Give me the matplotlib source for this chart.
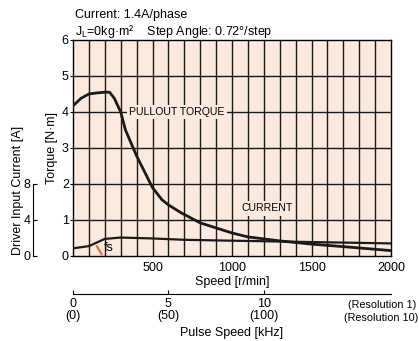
import matplotlib
matplotlib.use("Agg")
import matplotlib.pyplot as plt
from matplotlib import font_manager

# font: narrow sans if available
names = {f.name for f in font_manager.fontManager.ttflist}
fam = 'Liberation Sans Narrow' if 'Liberation Sans Narrow' in names else 'Liberation Sans'
plt.rcParams['font.family'] = [fam, 'DejaVu Sans']
fs = 9

# pullout torque [N·m] vs speed [r/min]
torque_rpm = [0, 50, 100, 150, 200, 230, 260, 300, 330, 400, 500, 560, 600, 680,
              800, 1000, 1100, 1300, 1500, 1700, 2000]
torque_nm = [4.17, 4.38, 4.5, 4.53, 4.55, 4.55, 4.38, 4.0, 3.5, 2.78, 1.9, 1.56,
             1.42, 1.2, 0.92, 0.64, 0.53, 0.42, 0.33, 0.26, 0.15]

# driver input current [A] vs speed [r/min]
current_rpm = [0, 100, 200, 300, 500, 700, 1000, 1500, 2000]
current_a = [0.85, 1.1, 1.9, 2.05, 1.95, 1.8, 1.7, 1.55, 1.4]

speed_ticks = [500, 1000, 1500, 2000]
torque_ticks = [0, 1, 2, 3, 4, 5, 6]
current_ticks = [0, 4, 8]
pulse_ticks = [0, 5, 10]
pulse_labels = ['0\n(0)', '5\n(50)', '10\n(100)']

W, H = 419, 341
fig = plt.figure(figsize=(W / 100, H / 100), dpi=100)

def box(l, t, r, b):
    return [l / W, (H - b) / H, (r - l) / W, (b - t) / H]

bg = '#fdeadf'
ax = fig.add_axes(box(73, 40, 391, 256))
ax.set_facecolor(bg)
ax.set_xlim(0, 2000)
ax.set_ylim(0, 6)
for x in range(100, 2000, 100):
    ax.axvline(x, color='#1a1a1a', lw=1.0, zorder=1)
for y in range(1, 6):
    ax.axhline(y, color='#1a1a1a', lw=1.0, zorder=1)
for s in ax.spines.values():
    s.set_linewidth(1.0)
ax.set_xticks(speed_ticks)
ax.set_yticks(torque_ticks)
ax.tick_params(axis='x', length=0, pad=4, labelsize=fs)
ax.tick_params(axis='y', length=2, pad=1, labelsize=fs)
ax.set_xlabel('Speed [r/min]', labelpad=2, fontsize=fs)
ax.set_ylabel('Torque [N·m]', labelpad=3, fontsize=fs)

ax.plot(torque_rpm, torque_nm, color='#1a1a1a', lw=2.0, zorder=3)
ax.plot(current_rpm, [c / 4 for c in current_a], color='#1a1a1a', lw=1.6, zorder=3)

ax.text(655, 4.0, 'PULLOUT TORQUE', ha='center', va='center', fontsize=7.6, zorder=4,
        bbox=dict(facecolor=bg, edgecolor='none', pad=1.5))
ax.text(1220, 1.32, 'CURRENT', ha='center', va='center', fontsize=7.6, zorder=4,
        bbox=dict(facecolor=bg, edgecolor='none', pad=1.5))
ax.plot([150, 180], [0.27, 0.05], color='#e8692a', lw=1.5, zorder=4)
ax.text(192, 0.22, 'fs', ha='left', va='center', fontsize=fs, zorder=4)

# current axis
axc = fig.add_axes(box(33, 184, 34, 256))
axc.set_ylim(0, 8)
axc.set_xticks([])
axc.set_yticks(current_ticks)
for s in ['top', 'right', 'bottom']:
    axc.spines[s].set_visible(False)
axc.patch.set_alpha(0)
axc.tick_params(axis='y', direction='in', length=3, pad=2, labelsize=fs)
fig.text(18 / W, 1 - 190 / H, 'Driver Input Current [A]', rotation=90,
         ha='center', va='center', fontsize=fs)

# pulse speed axis
axp = fig.add_axes(box(73, 294, 391, 295))
axp.set_xlim(0, 2000 / 120)
axp.set_yticks([])
for s in ['top', 'right', 'left']:
    axp.spines[s].set_visible(False)
axp.spines['bottom'].set_position(('axes', 1))
axp.patch.set_alpha(0)
axp.set_xticks(pulse_ticks)
axp.set_xticklabels(pulse_labels, linespacing=1.0)
axp.tick_params(axis='x', direction='in', length=3, pad=3, labelsize=fs)
fig.text(232 / W, 1 - 333 / H, 'Pulse Speed [kHz]', ha='center', va='center', fontsize=fs)
fig.text(416 / W, 1 - 305 / H, '(Resolution 1)', ha='right', va='center', fontsize=7.8)
fig.text(418 / W, 1 - 318 / H, '(Resolution 10)', ha='right', va='center', fontsize=7.8)

fig.text(75 / W, 1 - 15 / H, 'Current: 1.4A/phase', ha='left', va='center', fontsize=fs)
fig.text(75 / W, 1 - 32 / H, 'J$_\\mathregular{L}$=0kg·m²    Step Angle: 0.72°/step',
         ha='left', va='center', fontsize=fs)

fig.savefig('out.png', dpi=100)
